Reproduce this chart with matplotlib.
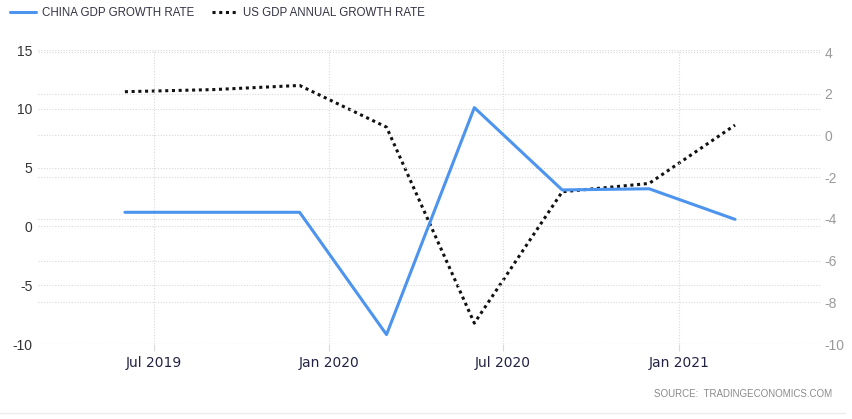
# China vs US GDP growth, tradingeconomics-style chart
import numpy as np
import pandas as pd
import matplotlib
matplotlib.use('Agg')
import matplotlib.pyplot as plt
import matplotlib.dates as mdates
from matplotlib.lines import Line2D

plt.rcParams['font.family'] = ['Liberation Sans', 'DejaVu Sans']
plt.rcParams['axes.unicode_minus'] = False

# data (quarterly points)
dates = pd.to_datetime(['2019-06-01', '2019-09-01', '2019-12-01', '2020-03-01',
                        '2020-06-01', '2020-09-01', '2020-12-01', '2021-03-01'])
china_gdp = [1.2, 1.2, 1.2, -9.2, 10.1, 3.1, 3.2, 0.6]
us_gdp = [2.1, 2.2, 2.4, 0.4, -9.0, -2.7, -2.3, 0.5]

left_ticks = [-10, -5, 0, 5, 10, 15]
right_ticks = [-10, -8, -6, -4, -2, 0, 2, 4]
x_ticks = pd.to_datetime(['2019-07-01', '2020-01-01', '2020-07-01', '2021-01-01'])

china_color = '#4d94ee'
grid_color = '#d9d9d9'

fig = plt.figure(figsize=(8.52, 4.19), dpi=100)
ax = fig.add_axes([38/852, 1 - 344/419, (820 - 38)/852, (344 - 50)/419])
ax2 = ax.twinx()

for a in (ax, ax2):
    a.set_facecolor('none')
    for s in a.spines.values():
        s.set_visible(False)
ax.set_zorder(ax2.get_zorder() + 1)

l1, = ax.plot(dates, china_gdp, color=china_color, lw=2.2, solid_capstyle='round',
              label='CHINA GDP GROWTH RATE', zorder=3)
l2, = ax.plot([], [], color='#111111', lw=2.2, ls=(0, (1, 1.2)),
              label='US GDP ANNUAL GROWTH RATE')
ax2.plot(dates, us_gdp, color='#111111', lw=2.2, ls=(0, (1, 1.2)), zorder=3)

ax.set_ylim(-10, 15)
ax.set_yticks(left_ticks)
ax2.set_ylim(-10, 4.1)
ax2.set_yticks(right_ticks)
ax.set_xlim(pd.Timestamp('2019-03-02'), pd.Timestamp('2021-05-29'))
ax.set_xticks(x_ticks)
ax.xaxis.set_major_formatter(mdates.DateFormatter('%b %Y'))

ax.grid(True, axis='both', color=grid_color, ls=(0, (1, 1.5)), lw=0.8)
ax2.grid(True, axis='y', color=grid_color, ls=(0, (1, 1.5)), lw=0.8)
ax.set_axisbelow(True)

ax.tick_params(axis='y', length=0, pad=4, labelsize=10, labelcolor='#333333')
ax.tick_params(axis='x', length=5, color=grid_color, pad=4, labelsize=10,
               labelcolor='#222244')
for lab in ax.get_xticklabels():
    lab.set_family(['DejaVu Sans'])
ax2.tick_params(axis='y', length=0, pad=3, labelsize=10, labelcolor='#9a9a9a')

fig.legend(handles=[l1, l2], loc='center left', bbox_to_anchor=(0.0, 1 - 13/419),
           ncol=2, frameon=False, fontsize=8.3, handlelength=2.2, handletextpad=0.5,
           columnspacing=1.6, labelcolor='#333344')

fig.text(832/852, 1 - 394/419, 'SOURCE:  TRADINGECONOMICS.COM', ha='right', va='center',
         fontsize=7, color='#8a8a8a')
fig.add_artist(Line2D([0, 845/852], [1 - 413/419, 1 - 413/419], color='#ececec', lw=1))

fig.savefig('out.png', dpi=100)
